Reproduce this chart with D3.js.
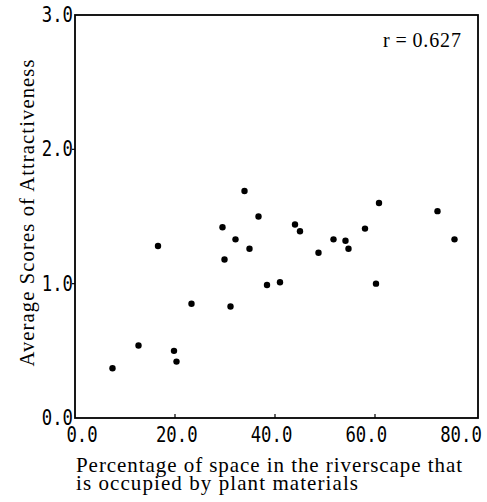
<!DOCTYPE html>
<html>
<head>
<meta charset="utf-8">
<script src="https://cdn.jsdelivr.net/npm/d3@7"></script>
<style>
  html, body { margin: 0; padding: 0; background: #fff; }
  svg { display: block; }
</style>
</head>
<body>
<svg id="chart" width="487" height="502"></svg>
<script>
// ---- data ----
const plantPercent = [7.5, 12.7, 16.6, 19.8, 20.3, 23.3, 29.5, 29.9, 31.1, 32.1, 33.9, 34.9, 36.7,
  38.4, 41.0, 44.0, 45.0, 48.7, 51.7, 54.1, 54.7, 58.0, 60.2, 60.8, 72.5, 75.9];
const attractiveness = [0.37, 0.54, 1.28, 0.50, 0.42, 0.85, 1.42, 1.18, 0.83, 1.33, 1.69, 1.26, 1.50,
  0.99, 1.01, 1.44, 1.39, 1.23, 1.33, 1.32, 1.26, 1.41, 1.00, 1.60, 1.54, 1.33];
const xTicks = [0, 20, 40, 60, 80];
const yTicks = [0, 1, 2, 3];
const xTickLabels = ["0.0", "20.0", "40.0", "60.0", "80.0"];
const yTickLabels = ["0.0", "1.0", "2.0", "3.0"];
const xTitleLines = ["Percentage of space in the riverscape that", "is occupied by plant materials"];
const yTitle = "Average Scores of Attractiveness";
const annotation = "r\u2009=\u20090.627";

(function () {
// ---- layout ----
const svg = d3.select("#chart");
const mLeft = 75, mRight = 478, mTop = 15, mBottom = 418;
const x = d3.scaleLinear().domain([0, 80]).range([mLeft, 475]);
const y = d3.scaleLinear().domain([0, 3]).range([mBottom, mTop]);
// tick labels sit slightly inside the ends of the axis in the original
const xLabel = d3.scaleLinear().domain([0, 80]).range([82, 461]);

const serif = "'Liberation Serif', 'Times New Roman', serif";
const mono = "'DejaVu Sans Mono', 'Liberation Mono', monospace";
const tickFont = 17.3, tickStretch = 1.2;   // condensed, tall digits

// frame
svg.append("rect")
  .attr("x", mLeft).attr("y", mTop)
  .attr("width", mRight - mLeft).attr("height", mBottom - mTop)
  .attr("fill", "none").attr("stroke", "#000").attr("stroke-width", 1.8);

// x ticks (inward)
svg.append("g").selectAll("line").data(xTicks.slice(1, -1)).join("line")
  .attr("x1", d => x(d)).attr("x2", d => x(d))
  .attr("y1", mBottom).attr("y2", mBottom - 4)
  .attr("stroke", "#000").attr("stroke-width", 1.2);

// y ticks (outward small)
svg.append("g").selectAll("line").data(yTicks.slice(1, -1)).join("line")
  .attr("x1", mLeft).attr("x2", mLeft - 3)
  .attr("y1", d => y(d)).attr("y2", d => y(d))
  .attr("stroke", "#000").attr("stroke-width", 1.2);

// x tick labels
svg.append("g").selectAll("text").data(xTicks).join("text")
  .attr("transform", d => `translate(${xLabel(d)},442) scale(1,${tickStretch})`)
  .attr("text-anchor", "middle")
  .attr("font-family", mono).attr("font-size", tickFont)
  .attr("fill", "#000")
  .text((d, i) => xTickLabels[i]);

// y tick labels
svg.append("g").selectAll("text").data(yTicks).join("text")
  .attr("transform", d => `translate(${mLeft - 2},${y(d) + 7}) scale(1,${tickStretch})`)
  .attr("text-anchor", "end")
  .attr("font-family", mono).attr("font-size", tickFont)
  .attr("fill", "#000")
  .text((d, i) => yTickLabels[i]);

// points
svg.append("g").selectAll("circle").data(plantPercent).join("circle")
  .attr("cx", d => x(d))
  .attr("cy", (d, i) => y(attractiveness[i]))
  .attr("r", 3.2)
  .attr("fill", "#000");

// annotation
svg.append("text")
  .attr("x", 383).attr("y", 47)
  .attr("font-family", serif).attr("font-size", 20)
  .attr("textLength", 78)
  .attr("lengthAdjust", "spacing")
  .attr("fill", "#000")
  .text(annotation);

// x title (two lines in one text element)
const xt = svg.append("text")
  .attr("font-family", serif).attr("font-size", 21)
  .attr("fill", "#000");
xt.selectAll("tspan").data(xTitleLines).join("tspan")
  .attr("x", 76).attr("y", (d, i) => 472 + i * 18)
  .attr("textLength", (d, i) => i === 0 ? 386 : 282)
  .attr("lengthAdjust", "spacing")
  .text(d => d);

// y title
svg.append("text")
  .attr("transform", "translate(33.5,213) rotate(-90)")
  .attr("text-anchor", "middle")
  .attr("font-family", serif).attr("font-size", 20.5)
  .attr("textLength", 307)
  .attr("lengthAdjust", "spacing")
  .attr("fill", "#000")
  .text(yTitle);
})();
</script>
</body>
</html>
